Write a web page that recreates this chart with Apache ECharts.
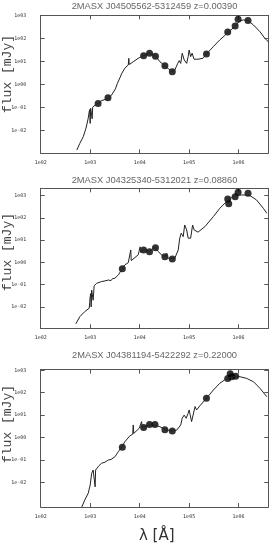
<!DOCTYPE html>
<html>
<head>
<meta charset="utf-8">
<script src="https://cdn.jsdelivr.net/npm/echarts@6/dist/echarts.min.js"></script>
<style>html,body{margin:0;padding:0;background:#fff}#c{width:279px;height:557px}</style>
</head>
<body>
<div id="c"></div>
<script>
// All values below are log10(lambda [Å]) and log10(flux [mJy])
const titles = [
  '2MASX J04505562-5312459 z=0.00390',
  '2MASX J04325340-5312021 z=0.08860',
  '2MASX J04381194-5422292 z=0.22000'
];
const xTickExps = [2, 3, 4, 5, 6];
const yTickExps = [-2, -1, 0, 1, 2, 3];

const sed1Lam  = [2.73,2.79,2.86,2.915,2.96,2.98,2.99,3.00,3.01,3.03,3.04,3.05,3.10,3.16,3.22,3.26,3.30,3.37,3.43,3.47,3.51,3.55,3.60,3.64,3.70,3.77,3.78,3.79,3.87,3.97,4.01,4.07,4.14,4.19,4.26,4.33,4.41,4.51,4.58,4.66,4.71,4.77,4.80,4.83,4.86,4.90,4.95,4.98,5.00,5.03,5.06,5.10,5.18,5.28,5.35,5.49,5.62,5.72,5.78,5.93,6.02,6.10,6.19,6.30,6.43,6.53,6.60];
const sed1Flux = [-2.86,-2.57,-2.28,-1.91,-1.48,-1.19,-1.10,-1.70,-1.04,-1.05,-1.50,-1.00,-0.90,-0.83,-0.72,-0.68,-0.66,-0.60,-0.47,-0.39,-0.20,0.04,0.28,0.48,0.70,0.84,1.13,0.86,0.98,1.13,1.20,1.24,1.30,1.35,1.30,1.20,0.98,0.81,0.68,0.55,0.62,0.91,1.03,0.91,1.35,1.06,0.91,1.20,1.49,1.20,1.35,1.09,1.09,1.13,1.32,1.64,1.93,2.12,2.25,2.52,2.75,2.80,2.77,2.58,2.29,2.00,1.85];
const phot1Lam  = [3.16,3.36,4.08,4.20,4.32,4.51,4.66,5.35,5.78,5.93,5.99,6.19];
const phot1Flux = [-0.84,-0.59,1.24,1.35,1.22,0.81,0.55,1.32,2.27,2.53,2.83,2.77];

const sed2Lam  = [2.71,2.79,2.89,2.98,2.99,3.00,3.01,3.02,3.03,3.05,3.06,3.08,3.13,3.23,3.30,3.37,3.42,3.45,3.50,3.57,3.64,3.70,3.77,3.81,3.82,3.83,3.87,3.97,4.00,4.01,4.02,4.07,4.13,4.19,4.25,4.31,4.38,4.44,4.48,4.51,4.55,4.56,4.62,4.66,4.71,4.78,4.81,4.84,4.88,4.91,4.95,4.98,5.03,5.07,5.10,5.18,5.32,5.49,5.62,5.75,5.85,5.95,6.06,6.15,6.23,6.36,6.50,6.57];
const sed2Flux = [-2.76,-2.44,-2.21,-2.06,-1.80,-1.54,-1.40,-2.00,-1.24,-1.20,-1.70,-1.05,-0.94,-0.86,-0.83,-0.79,-0.82,-0.73,-0.71,-0.56,-0.31,-0.11,-0.01,0.06,0.56,0.08,0.11,0.34,0.40,0.70,0.45,0.56,0.55,0.48,0.60,0.68,0.48,0.34,0.28,0.26,0.41,0.20,0.18,0.16,0.19,0.56,1.09,1.31,1.16,1.68,1.46,1.09,1.09,1.68,1.46,1.36,1.61,2.06,2.43,2.72,2.90,3.00,3.03,3.03,3.00,2.81,2.43,2.21];
const phot2Lam  = [3.65,4.08,4.20,4.32,4.51,4.66,5.78,5.80,5.93,5.99,6.19];
const phot2Flux = [-0.29,0.56,0.48,0.66,0.26,0.15,2.85,2.64,2.95,3.15,3.11];

const sed3Lam  = [2.83,2.89,2.96,3.00,3.03,3.06,3.08,3.10,3.11,3.13,3.18,3.23,3.30,3.37,3.42,3.50,3.57,3.64,3.70,3.80,3.86,3.87,3.88,3.90,3.99,4.03,4.04,4.05,4.07,4.12,4.19,4.31,4.41,4.51,4.58,4.66,4.75,4.83,4.86,4.90,4.94,4.98,5.00,5.05,5.08,5.12,5.15,5.22,5.35,5.49,5.62,5.75,5.85,5.95,6.03,6.16,6.30,6.43,6.57];
const sed3Flux = [-3.10,-2.79,-2.49,-2.12,-1.60,-1.45,-1.50,-2.20,-1.45,-1.38,-1.25,-1.15,-1.10,-1.00,-0.98,-0.86,-0.63,-0.41,-0.19,0.07,0.15,0.56,0.18,0.26,0.41,0.43,0.71,0.44,0.46,0.50,0.56,0.56,0.48,0.37,0.32,0.29,0.33,0.56,0.86,1.00,0.86,1.08,1.23,0.71,1.00,1.38,1.23,1.42,1.75,2.12,2.42,2.62,2.70,2.73,2.71,2.64,2.49,2.20,1.82];
const phot3Lam  = [3.65,4.08,4.20,4.31,4.51,4.66,5.35,5.78,5.83,5.86,5.94];
const phot3Flux = [-0.43,0.45,0.58,0.58,0.35,0.29,1.75,2.63,2.85,2.71,2.73];

const yRanges = [[-3, 3], [-2.96, 3.33], [-3.1, 3.03]];
const xRange = [2, 6.6];

const P = v => Math.pow(10, v);
const pairs = (a, b) => a.map((v, i) => [P(v), P(b[i])]);
const fmt = v => {
  const e = Math.round(Math.log10(v));
  return '1e' + (e < 0 ? '-' : '') + String(Math.abs(e)).padStart(2, '0');
};

const grids = [
  {left: 40.7, right: 10.7, top: 15.3, height: 138},
  {left: 40.7, right: 10.7, top: 188.3, height: 140},
  {left: 40.7, right: 10.7, top: 369.6, height: 137.4}
];
const lineC = '#555';
const labelStyle = {fontSize: 5, fontFamily: 'DejaVu Sans Mono', color: '#333'};

const xAxes = [], yAxes = [], series = [];
const seds = [[sed1Lam, sed1Flux], [sed2Lam, sed2Flux], [sed3Lam, sed3Flux]];
const phots = [[phot1Lam, phot1Flux], [phot2Lam, phot2Flux], [phot3Lam, phot3Flux]];
const xVals = xTickExps.map(P);
const yVals = yTickExps.map(P);

for (let i = 0; i < 3; i++) {
  const common = {type: 'log', gridIndex: i, splitLine: {show: false}, minorTick: {show: false}};
  xAxes.push(Object.assign({}, common, {
    position: 'bottom', min: P(xRange[0]), max: P(xRange[1]),
    axisLine: {lineStyle: {color: lineC, width: 1}},
    axisTick: {inside: true, length: 4, lineStyle: {color: lineC}, customValues: xVals},
    axisLabel: Object.assign({margin: 7, formatter: fmt, customValues: xVals}, labelStyle)
  }));
  xAxes.push(Object.assign({}, common, {
    position: 'top', min: P(xRange[0]), max: P(xRange[1]),
    axisLine: {lineStyle: {color: lineC, width: 1}},
    axisTick: {inside: true, length: 4, lineStyle: {color: lineC}, customValues: xVals},
    axisLabel: {show: false}
  }));
  const yr = yRanges[i];
  yAxes.push(Object.assign({}, common, {
    position: 'left', min: P(yr[0]), max: P(yr[1]),
    axisLine: {show: true, lineStyle: {color: lineC, width: 1}},
    axisTick: {show: true, inside: true, length: 4, lineStyle: {color: lineC}, customValues: yVals},
    axisLabel: Object.assign({margin: 14.5, formatter: fmt, customValues: yVals}, labelStyle)
  }));
  yAxes.push(Object.assign({}, common, {
    position: 'right', min: P(yr[0]), max: P(yr[1]),
    axisLine: {show: true, lineStyle: {color: lineC, width: 1}},
    axisTick: {show: true, inside: true, length: 4, lineStyle: {color: lineC}, customValues: yVals},
    axisLabel: {show: false}
  }));
  series.push({
    type: 'line', xAxisIndex: 2 * i, yAxisIndex: 2 * i,
    data: pairs(seds[i][0], seds[i][1]), showSymbol: false, clip: true,
    lineStyle: {color: '#222', width: 1}, animation: false, silent: true
  });
  series.push({
    type: 'scatter', xAxisIndex: 2 * i, yAxisIndex: 2 * i,
    data: pairs(phots[i][0], phots[i][1]), symbol: 'circle', symbolSize: 7,
    itemStyle: {color: '#000'}, animation: false, silent: true
  });
}

const titleY = [6.7, 180, 355.7];
const yNameY = [74, 252, 424];
const graphic = [];
for (let i = 0; i < 3; i++) {
  graphic.push({type: 'text', x: 154.5, y: titleY[i],
    style: {text: titles[i], fontSize: 9.3, fontFamily: 'Liberation Sans', fill: '#666',
      textAlign: 'center', textVerticalAlign: 'middle'}});
  graphic.push({type: 'text', x: 7.5, y: yNameY[i], rotation: Math.PI / 2,
    style: {text: 'flux [mJy]', fontSize: 13, fontFamily: 'Liberation Mono', fill: '#444',
      textAlign: 'center', textVerticalAlign: 'middle'}});
}
graphic.push({type: 'text', x: 156.7, y: 535.7,
  style: {text: 'λ [Å]', fontSize: 15, fontFamily: 'DejaVu Sans', fill: '#333',
    textAlign: 'center', textVerticalAlign: 'middle'}});

const chart = echarts.init(document.getElementById('c'), null, {renderer: 'canvas'});
chart.setOption({
  animation: false,
  backgroundColor: '#fff',
  grid: grids,
  xAxis: xAxes,
  yAxis: yAxes,
  series: series,
  graphic: graphic
});
</script>
</body>
</html>
